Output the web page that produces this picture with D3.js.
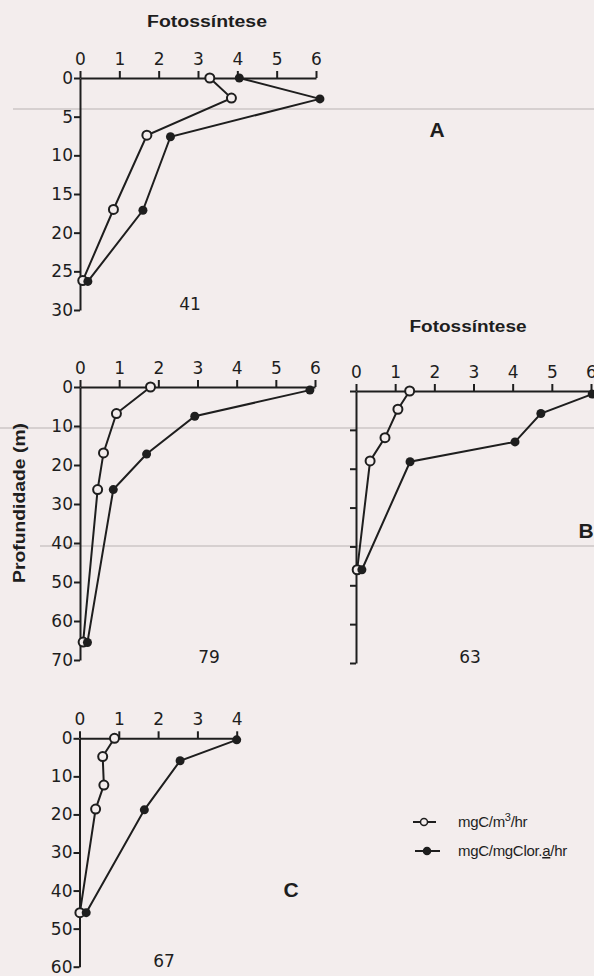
<!DOCTYPE html>
<html>
<head>
<meta charset="utf-8">
<script src="https://cdn.jsdelivr.net/npm/d3@7"></script>
<style>
body { margin: 0; background: #f3eded; }
svg { display: block; }
.axis path, .axis line { stroke: #1e1e1e; stroke-width: 2; }
.axis text { font-family: "DejaVu Sans", sans-serif; font-size: 17px; fill: #1e1e1e; }
</style>
</head>
<body>
<script>
// station 41 (A)
var depthA_open = [0, 2.6, 7.4, 17, 26.2];
var openA = [3.3, 3.85, 1.7, 0.85, 0.07];
var depthA_fill = [0, 2.7, 7.6, 17.1, 26.3];
var fillA = [4.05, 6.1, 2.3, 1.6, 0.2];

// station 79
var depth79_open = [0, 6.8, 16.9, 26.3, 65.4];
var open79 = [1.8, 0.93, 0.6, 0.45, 0.08];
var depth79_fill = [0.8, 7.5, 17.2, 26.3, 65.5];
var fill79 = [5.87, 2.93, 1.7, 0.85, 0.19];

// station 63 (B)
var depth63_open = [0, 4.7, 12, 18, 46];
var open63 = [1.37, 1.07, 0.74, 0.36, 0.03];
var depth63_fill = [0.8, 5.8, 13.1, 18.2, 46];
var fill63 = [6.03, 4.72, 4.06, 1.38, 0.15];

// station 67 (C)
var depth67_open = [0, 4.8, 12.3, 18.6, 45.8];
var open67 = [0.89, 0.59, 0.62, 0.41, 0.01];
var depth67_fill = [0.4, 5.9, 18.8, 45.8];
var fill67 = [4.0, 2.56, 1.65, 0.17];

var legendLabels = ["mgC/m", "mgC/mgClor."];
var ink = "#1e1e1e", paper = "#f3eded";

var svg = d3.select("body").append("svg").attr("width", 594).attr("height", 976);

// faint rules showing through from the other side of the page
[[13, 109], [0, 428], [40, 546]].forEach(function(r) {
  svg.append("line").attr("x1", r[0]).attr("x2", 594).attr("y1", r[1]).attr("y2", r[1])
    .attr("stroke", "#cdc6c6").attr("stroke-width", 1.5);
});

var panels = [
  {left: 80, right: 316, top: 78, bottom: 310, xmax: 6, ymax: 30, ystep: 5, ylabels: true,
   open: [openA, depthA_open], fill: [fillA, depthA_fill], station: "41", sx: 190, sy: 310},
  {left: 80, right: 315, top: 387, bottom: 660, xmax: 6, ymax: 70, ystep: 10, ylabels: true,
   open: [open79, depth79_open], fill: [fill79, depth79_fill], station: "79", sx: 209, sy: 663},
  {left: 356, right: 591, top: 391, bottom: 663, xmax: 6, ymax: 70, ystep: 10, ylabels: false,
   open: [open63, depth63_open], fill: [fill63, depth63_fill], station: "63", sx: 470, sy: 663},
  {left: 79.5, right: 236.7, top: 738.3, bottom: 966.7, xmax: 4, ymax: 60, ystep: 10, ylabels: true,
   open: [open67, depth67_open], fill: [fill67, depth67_fill], station: "67", sx: 164, sy: 967}
];

panels.forEach(function(p) {
  var x = d3.scaleLinear().domain([0, p.xmax]).range([p.left, p.right]);
  var y = d3.scaleLinear().domain([0, p.ymax]).range([p.top, p.bottom]);
  var g = svg.append("g");

  g.append("g").attr("class", "axis")
    .attr("transform", "translate(0," + p.top + ")")
    .call(d3.axisTop(x).ticks(p.xmax).tickSize(7).tickSizeOuter(0).tickPadding(6));

  var ya = d3.axisLeft(y).tickValues(d3.range(0, p.ymax + 1, p.ystep))
    .tickSize(6).tickSizeOuter(0).tickPadding(1);
  if (!p.ylabels) ya.tickFormat("");
  g.append("g").attr("class", "axis")
    .attr("transform", "translate(" + p.left + ",0)")
    .call(ya);

  var line = d3.line().x(function(d) { return x(d[0]); }).y(function(d) { return y(d[1]); });
  var openPts = d3.zip(p.open[0], p.open[1]);
  var fillPts = d3.zip(p.fill[0], p.fill[1]);

  [openPts, fillPts].forEach(function(pts) {
    g.append("path").attr("d", line(pts))
      .attr("fill", "none").attr("stroke", ink).attr("stroke-width", 2);
  });

  g.selectAll("circle.o").data(openPts).enter().append("circle")
    .attr("class", "o")
    .attr("cx", function(d) { return x(d[0]); })
    .attr("cy", function(d) { return y(d[1]); })
    .attr("r", 4.5).attr("fill", paper).attr("stroke", ink).attr("stroke-width", 2);

  g.selectAll("circle.f").data(fillPts).enter().append("circle")
    .attr("class", "f")
    .attr("cx", function(d) { return x(d[0]); })
    .attr("cy", function(d) { return y(d[1]); })
    .attr("r", 4.5).attr("fill", ink);

  g.append("text").attr("x", p.sx).attr("y", p.sy).attr("text-anchor", "middle")
    .attr("font-family", "DejaVu Sans, sans-serif").attr("font-size", 17).attr("fill", ink)
    .text(p.station);
});

// titles and letters
function bold(txt, x, y, size, len) {
  var t = svg.append("text").attr("x", x).attr("y", y).attr("text-anchor", "middle")
    .attr("font-family", "Liberation Sans, Arial, sans-serif").attr("font-weight", "bold")
    .attr("font-size", size).attr("fill", ink).text(txt);
  if (len) t.attr("textLength", len).attr("lengthAdjust", "spacingAndGlyphs");
  return t;
}
bold("Fotossíntese", 207, 27, 16, 120);
bold("Fotossíntese", 468, 332, 16, 117);
bold("A", 437, 137, 21);
bold("B", 586, 538, 21);
bold("C", 291, 897, 21);
bold("Profundidade (m)", 0, 0, 16, 160).attr("transform", "translate(25,503) rotate(-90)");

// legend
var leg = svg.append("g");
[0, 1].forEach(function(i) {
  var ly = 822 + i * 29;
  leg.append("line").attr("x1", 413 + i * 2).attr("x2", 436 + i * 4).attr("y1", ly).attr("y2", ly)
    .attr("stroke", ink).attr("stroke-width", 2);
  leg.append("circle").attr("cx", 424 + i * 3).attr("cy", ly).attr("r", 3.5)
    .attr("fill", i == 0 ? paper : ink).attr("stroke", ink).attr("stroke-width", 1.5);
  var t = leg.append("text").attr("x", 458).attr("y", ly + 5)
    .attr("font-family", "Liberation Sans Narrow, Liberation Sans, sans-serif")
    .attr("font-size", 15).attr("letter-spacing", -0.3).attr("fill", ink).text(legendLabels[i]);
  if (i == 0) {
    t.append("tspan").attr("dy", -6).attr("font-size", 11).text("3");
    t.append("tspan").attr("dy", 6).text("/hr");
  } else {
    t.append("tspan").attr("text-decoration", "underline").text("a");
    t.append("tspan").text("/hr");
  }
});
</script>
</body>
</html>
